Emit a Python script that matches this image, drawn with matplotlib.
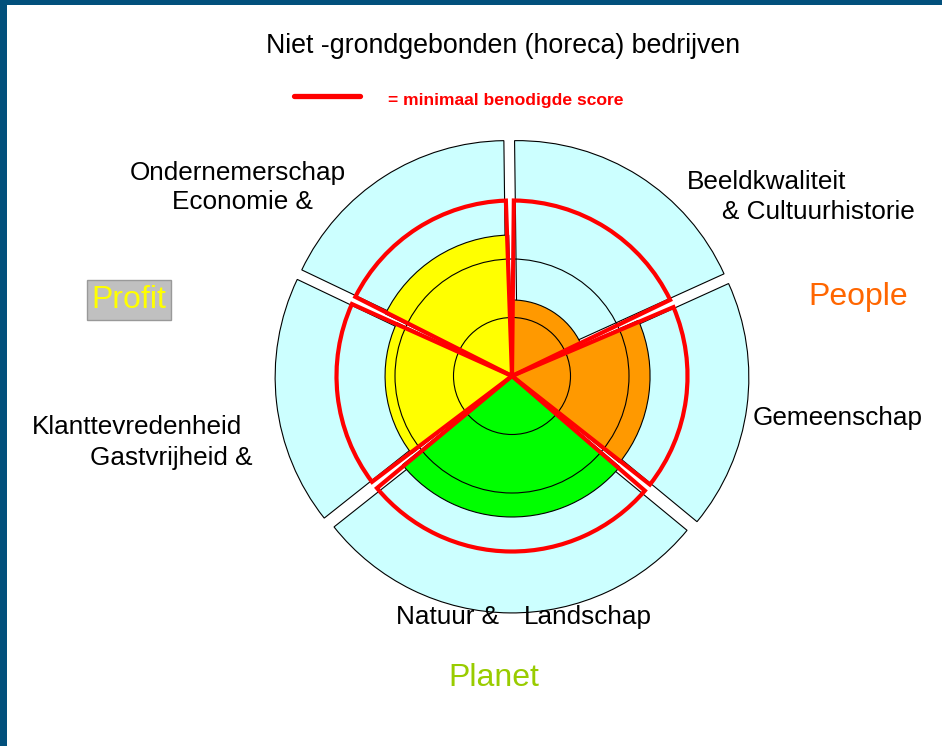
import numpy as np
import matplotlib
matplotlib.use("Agg")
import matplotlib.pyplot as plt
from matplotlib.patches import Wedge, Circle, Rectangle

plt.rcParams['font.family'] = ['Liberation Sans', 'DejaVu Sans']

# categorieen (met de klok mee, vanaf boven)
categorieen = ["Beeldkwaliteit & Cultuurhistorie", "Gemeenschap", "Natuur & Landschap",
               "Klanttevredenheid Gastvrijheid &", "Economie & Ondernemerschap"]
# breedte van elke sector in graden
sector_breedte = [66.3, 63.9, 102.1, 63.9, 63.8]
start_hoek = 90.7
# behaalde score per categorie (schaal 0-4)
score = [1.30, 2.36, 2.41, 2.17, 2.41]
# minimaal benodigde score
minimaal = [3.0, 3.0, 3.0, 3.0, 3.0]
max_score = 3.88
kleuren = ["#FF9900", "#FF9900", "#00FF00", "#FFFF00", "#FFFF00"]

W, H = 942, 746
cx, cy, schaal = 512, 376, 58.5   # middelpunt en pixels per eenheid

fig = plt.figure(figsize=(W / 100, H / 100), dpi=100)
ax = fig.add_axes([0, 0, 1, 1])
ax.set_xlim(-cx / schaal, (W - cx) / schaal)
ax.set_ylim(-(H - cy) / schaal, cy / schaal)
ax.axis("off")

grenzen = start_hoek - np.concatenate([[0], np.cumsum(sector_breedte)])
explode = 0.17
marge = 1.3

for i in range(len(categorieen)):
    t2 = grenzen[i]
    t1 = grenzen[i + 1]
    mid = np.radians((t1 + t2) / 2)
    # buitenste (lichtblauwe) sector, uitgetrokken
    c = (explode * np.cos(mid), explode * np.sin(mid))
    ax.add_patch(Wedge(c, max_score, t1, t2, facecolor="#CCFFFF",
                       edgecolor="black", lw=0.8, zorder=1))
    # behaalde score
    ax.add_patch(Wedge((0, 0), score[i], t1 + marge * 0.5, t2 - marge * 0.5,
                       facecolor=kleuren[i], edgecolor="black", lw=0.8, zorder=2))

for r in [1, 2]:
    ax.add_patch(Circle((0, 0), r, fill=False, edgecolor="black", lw=0.8, zorder=3))

for i in range(len(categorieen)):
    t2 = grenzen[i]
    t1 = grenzen[i + 1]
    ax.add_patch(Wedge((0, 0), minimaal[i], t1 + marge, t2 - marge, fill=False,
                       edgecolor="#FF0000", lw=3, joinstyle="miter", zorder=4))

def fx(x):
    return x / W

def fy(y):
    return 1 - y / H

# rand van de dia
fig.patches.append(Rectangle((0, 0), fx(7), 1, transform=fig.transFigure,
                             facecolor="#02507C", edgecolor="none", zorder=10))
fig.patches.append(Rectangle((0, fy(5)), 1, 5 / H, transform=fig.transFigure,
                             facecolor="#02507C", edgecolor="none", zorder=10))

fig.text(fx(503), fy(46), "Niet -grondgebonden (horeca) bedrijven",
         fontsize=19.3, ha="center", va="center")

fig.add_artist(plt.Line2D([fx(294), fx(360)], [fy(96), fy(96)], color="#FF0000",
                          lw=3.8, solid_capstyle="round", transform=fig.transFigure))
fig.text(fx(388), fy(101), "= minimaal benodigde score", fontsize=12.6,
         fontweight="bold", color="#FF0000", ha="left", va="center")

label_pos = [
    ("Ondernemerschap", 130, 173),
    ("Economie &", 172, 202),
    ("Beeldkwaliteit", 687, 182),
    ("& Cultuurhistorie", 722, 212),
    ("Gemeenschap", 753, 418),
    ("Klanttevredenheid", 32, 427),
    ("Gastvrijheid &", 90, 458),
    ("Natuur &", 396, 617),
    ("Landschap", 524, 617),
]
for tekst, x, y in label_pos:
    fig.text(fx(x), fy(y), tekst, fontsize=18.8, ha="left", va="center")

fig.text(fx(858), fy(297), "People", fontsize=23, color="#FF6600",
         ha="center", va="center")
fig.text(fx(494), fy(678), "Planet", fontsize=23, color="#99CC00",
         ha="center", va="center")
fig.text(fx(129), fy(300), "Profit", fontsize=23, color="#FFFF00",
         ha="center", va="center",
         bbox=dict(boxstyle="square,pad=0.15", facecolor="#C0C0C0", edgecolor="#999999"))

fig.savefig("out.png", dpi=100)
